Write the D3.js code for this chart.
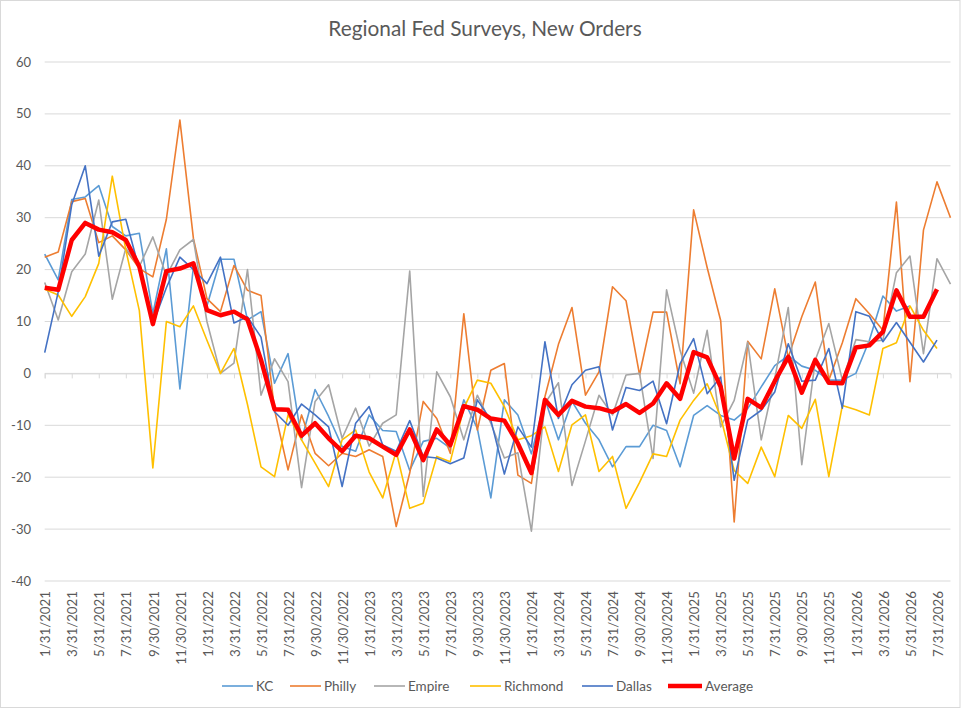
<!DOCTYPE html>
<html><head><meta charset="utf-8">
<script src="https://cdn.jsdelivr.net/npm/d3@7"></script>
<style>body{margin:0;background:#fff}svg{display:block}text{font-family:Lato,"Open Sans",sans-serif;fill:#595959}</style>
</head><body><svg id="c" width="969" height="711"></svg>
<script>
const dates = [
"1/31/2021","2/28/2021","3/31/2021","4/30/2021","5/31/2021","6/30/2021","7/31/2021","8/31/2021","9/30/2021","10/31/2021","11/30/2021","12/31/2021",
"1/31/2022","2/28/2022","3/31/2022","4/30/2022","5/31/2022","6/30/2022","7/31/2022","8/31/2022","9/30/2022","10/31/2022","11/30/2022","12/31/2022",
"1/31/2023","2/28/2023","3/31/2023","4/30/2023","5/31/2023","6/30/2023","7/31/2023","8/31/2023","9/30/2023","10/31/2023","11/30/2023","12/31/2023",
"1/31/2024","2/29/2024","3/31/2024","4/30/2024","5/31/2024","6/30/2024","7/31/2024","8/31/2024","9/30/2024","10/31/2024","11/30/2024","12/31/2024",
"1/31/2025","2/28/2025","3/31/2025","4/30/2025","5/31/2025","6/30/2025","7/31/2025","8/31/2025","9/30/2025","10/31/2025","11/30/2025","12/31/2025",
"1/31/2026","2/28/2026","3/31/2026","4/30/2026","5/31/2026","6/30/2026","7/31/2026","8/31/2026"];

const kc = [23.0,18.0,33.5,34.0,36.2,28.3,26.5,27.0,11.5,24.0,-3.0,20.5,
13.0,22.0,22.0,10.3,11.9,-1.9,3.8,-12.8,-3.1,-8.3,-14.1,-15.0,
-8.0,-11.0,-11.2,-18.7,-13.1,-12.5,-14.4,-5.1,-10.6,-24.0,-5.1,-8.0,
-15.5,-5.0,-12.8,-5.4,-9.6,-12.8,-18.0,-14.1,-14.1,-10.0,-11.0,-18.0,
-8.1,-6.2,-8.1,-9.0,-6.8,-2.6,1.5,3.4,1.4,0.6,-1.3,-1.3,
0.0,6.4,14.9,12.0,13.0];

const philly = [22.4,23.4,33.1,33.7,25.2,26.5,23.8,20.2,18.6,29.7,48.8,26.0,
14.4,11.9,20.8,16.0,15.0,-7.0,-18.6,-8.0,-15.4,-17.8,-15.4,-16.0,
-14.7,-16.0,-29.5,-19.2,-5.4,-8.7,-15.4,11.5,-10.9,0.6,1.9,-19.6,
-21.2,-4.5,5.6,12.7,-4.2,0.3,16.7,14.0,-0.3,11.8,11.8,-2.0,
31.5,20.4,10.2,-28.6,6.2,2.8,16.3,3.1,10.9,17.6,-1.3,5.9,
14.4,11.5,8.3,33.0,-1.6,27.6,36.9,30.0];

const empire = [17.5,10.3,19.6,23.0,33.4,14.3,24.1,20.6,26.3,18.8,23.8,25.8,
10.0,0.0,2.0,20.0,-4.2,2.8,-1.6,-22.0,-5.4,-2.2,-12.5,-6.7,
-14.0,-9.6,-8.0,19.7,-23.7,0.3,-4.5,-12.8,-4.2,-9.6,-16.3,-15.3,
-30.4,-5.8,-1.8,-21.6,-13.0,-4.2,-8.0,-0.3,0.0,-16.4,16.1,4.4,
-3.8,8.3,-10.3,-5.2,6.0,-12.8,-1.0,12.7,-17.6,2.6,9.6,-1.3,
6.5,6.1,6.4,19.4,22.6,3.8,22.1,17.2];

const richmond = [16.2,15.1,11.0,14.8,21.2,38.0,23.8,12.1,-18.2,10.0,9.0,13.0,
6.4,0.0,4.8,-6.0,-18.0,-19.9,-8.0,-12.8,-17.3,-21.8,-12.8,-10.9,
-19.0,-24.0,-15.0,-26.0,-25.0,-16.0,-17.0,-6.7,-1.3,-1.9,-6.4,-12.8,
-12.0,-10.3,-18.9,-9.9,-8.0,-18.9,-16.0,-26.0,-21.0,-15.5,-16.0,-9.0,
-5.2,-2.0,-8.4,-18.7,-21.2,-14.2,-19.9,-8.1,-10.6,-5.0,-19.9,-6.2,
-7.0,-8.0,4.8,5.9,13.0,8.3,4.8];

const dallas = [4.0,15.7,32.5,40.0,22.6,29.2,29.7,20.0,9.5,16.5,22.4,20.0,
17.3,22.4,9.7,10.9,7.0,-7.4,-10.0,-5.9,-8.0,-10.3,-21.8,-9.6,
-6.4,-13.8,-15.0,-9.1,-16.0,-16.3,-17.4,-16.3,-5.1,-9.0,-19.4,-10.3,
-14.2,6.1,-8.7,-2.2,0.6,1.3,-10.9,-2.7,-3.3,-1.5,-9.7,1.9,
6.7,-3.9,-0.7,-20.6,-9.0,-7.1,-3.6,5.7,-1.5,-1.3,4.8,-6.7,
11.9,11.0,6.1,9.8,6.0,2.2,6.4];

const average = [16.5,16.1,25.7,29.0,27.7,27.2,25.7,20.6,9.5,19.7,20.2,21.2,
12.2,11.2,11.9,10.4,2.6,-6.9,-7.0,-12.0,-9.6,-12.5,-15.0,-12.0,
-12.5,-14.1,-15.7,-10.8,-16.7,-10.8,-13.8,-6.3,-7.0,-8.7,-9.1,-13.5,
-19.2,-5.1,-8.0,-5.3,-6.4,-6.7,-7.4,-5.9,-7.6,-5.8,-1.9,-4.9,
4.1,3.1,-2.6,-16.4,-4.9,-6.6,-1.5,3.2,-3.7,2.6,-1.8,-1.9,
5.0,5.4,8.0,16.0,10.9,10.9,16.2];

const yTicks = [-40,-30,-20,-10,0,10,20,30,40,50,60];
const seriesNames = ["KC","Philly","Empire","Richmond","Dallas","Average"];
const seriesColors = ["#5B9BD5","#ED7D31","#A5A5A5","#FFC000","#4472C4","#FF0000"];
const seriesData = [kc, philly, empire, richmond, dallas, average];

const svg = d3.select("#c");
svg.append("rect").attr("x",0.5).attr("y",0.5).attr("width",959.5).attr("height",707)
  .attr("fill","#fff").attr("stroke","#D9D9D9");

const x = d3.scalePoint().domain(dates).range([44.7, 950.5]).padding(0);
const y = d3.scaleLinear().domain([-40, 60]).range([581, 62]);

// gridlines
svg.append("g").selectAll("line").data(yTicks).join("line")
  .attr("x1",44.7).attr("x2",950.5)
  .attr("y1",d=>y(d)).attr("y2",d=>y(d))
  .attr("stroke","#D9D9D9").attr("stroke-width",1);

// y labels
svg.append("g").selectAll("text").data(yTicks).join("text")
  .attr("x",31).attr("y",d=>y(d)).attr("dy","0.35em")
  .attr("text-anchor","end").attr("font-size",13).text(d=>d);

// horizontal axis at zero with tick marks
const xAxis = d3.axisBottom(x).tickValues(dates.filter((d,i)=>i%2===0)).tickSize(5).tickFormat("");
const ax = svg.append("g").attr("transform",`translate(0,${y(0)})`).call(xAxis);
ax.select(".domain").attr("stroke","#D9D9D9");
ax.selectAll(".tick line").attr("stroke","#D9D9D9");

// x labels at bottom
svg.append("g").selectAll("text").data(dates.filter((d,i)=>i%2===0)).join("text")
  .attr("transform",d=>`translate(${x(d)+1},591) rotate(-90)`)
  .attr("dy","0.35em").attr("text-anchor","end").attr("font-size",13.3).text(d=>d);

// lines
const line = d3.line().x((d,i)=>x(dates[i])).y(d=>y(d));
seriesData.forEach((s,k)=>{
  svg.append("path").datum(s).attr("d",line).attr("fill","none")
    .attr("stroke",seriesColors[k]).attr("stroke-width",k===5?4.5:1.6)
    .attr("stroke-linejoin","round");
});

// title
svg.append("text").attr("x",485).attr("y",36).attr("text-anchor","middle")
  .attr("font-size",20.8).text("Regional Fed Surveys, New Orders");

// legend
const legX = [222,290,374,470,582,668];
const lg = svg.append("g").selectAll("g").data(seriesNames).join("g")
  .attr("transform",(d,i)=>`translate(${legX[i]},686)`);
lg.append("line").attr("x1",0).attr("x2",(d,i)=>i===5?34:31).attr("y1",0).attr("y2",0)
  .attr("stroke",(d,i)=>seriesColors[i]).attr("stroke-width",(d,i)=>i===5?4.5:1.6);
lg.append("text").attr("x",(d,i)=>i===5?37:34).attr("dy","0.35em").attr("font-size",13.5).text(d=>d);
</script></body></html>
